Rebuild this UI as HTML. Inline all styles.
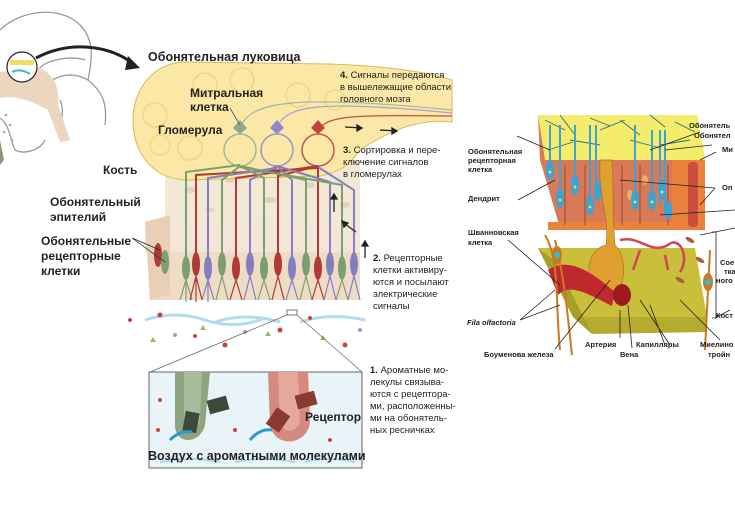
<!DOCTYPE html>
<html><head><meta charset="utf-8"><style>
body{margin:0;background:#fff;width:735px;height:506px;overflow:hidden;font-family:"Liberation Sans",sans-serif}
svg{position:absolute;left:0;top:0}
text{font-family:"Liberation Sans",sans-serif;fill:#222}
.b{font-weight:bold}
</style></head><body>
<svg width="735" height="506" viewBox="0 0 735 506">
<!-- head -->
<g fill="none" stroke="#9a9a9a" stroke-width="1.3">
<path d="M0,30 C20,10 60,5 80,25 C95,40 92,60 88,80 C100,90 108,100 105,125"/>
<path d="M88,80 C70,70 50,75 40,95"/>
<path d="M38,70 C45,60 70,55 85,60"/>
<path d="M0,118 C10,125 10,140 15,150 C25,155 40,150 45,140"/>
<path d="M60,100 C65,110 60,120 62,130"/>
</g>
<path d="M0,72 L40,68 C55,75 60,90 58,105 L70,140 L60,142 L48,110 C30,100 15,95 0,98Z" fill="#ecd6c0"/>
<circle cx="22" cy="67" r="15" fill="#fff" stroke="#222" stroke-width="1.2"/>
<rect x="10" y="60" width="24" height="5" fill="#f2dd60"/>
<path d="M12,72 Q20,68 30,74" stroke="#4ab0dd" stroke-width="2" fill="none"/>
<g fill="#9ac"><circle cx="6" cy="115" r="1.3"/><circle cx="10" cy="125" r="1.3"/><circle cx="4" cy="132" r="1.3"/><circle cx="12" cy="140" r="1.3"/></g>
<path d="M0,140 L4,160 L0,165Z" fill="#8a9a6a"/>
<path d="M36,58 C70,40 110,45 135,65" stroke="#222" stroke-width="3" fill="none"/>
<path d="M128,56 L140,68 L125,70Z" fill="#222"/>

<!-- bone -->
<rect x="165" y="160" width="195" height="62" fill="#f1e8d6"/>
<g fill="#e3d2b8"><ellipse cx="190" cy="190" rx="6" ry="3"/><ellipse cx="230" cy="180" rx="5" ry="3"/><ellipse cx="270" cy="200" rx="6" ry="3"/><ellipse cx="310" cy="185" rx="5" ry="3"/><ellipse cx="345" cy="205" rx="5" ry="3"/><ellipse cx="210" cy="210" rx="5" ry="2"/><ellipse cx="290" cy="175" rx="4" ry="2"/></g>
<!-- epithelium -->
<path d="M145,222 L360,222 L360,300 L150,300 Z" fill="#efdcc6"/>
<rect x="145" y="222" width="215" height="30" fill="#f3e6d8"/>
<path d="M145,222 L170,215 L170,295 L150,300Z" fill="#e9cfb6"/>

<!-- bulb -->
<path d="M185,62 L330,64 C380,66 420,70 452,80 L452,122 C420,118 390,130 360,150 C350,165 340,172 320,176 L185,180 C150,178 133,150 133,120 C133,88 155,62 185,62Z" fill="#fbe7a6" stroke="#d9b95a" stroke-width="1"/>
<g fill="none" stroke="#f0d57a" stroke-width="1.3">
<circle cx="155" cy="115" r="12"/><circle cx="205" cy="85" r="12"/><circle cx="242" cy="80" r="12"/><circle cx="298" cy="95" r="12"/><circle cx="190" cy="148" r="12"/><circle cx="160" cy="145" r="10"/><circle cx="335" cy="100" r="10"/>
</g>
<!-- axons to brain -->
<g fill="none" stroke-width="1.2">
<path d="M240,128 C250,100 300,95 452,110" stroke="#9fb8a0"/>
<path d="M277,128 C285,105 320,100 452,113" stroke="#a8a0d0"/>
<path d="M320,128 C330,115 360,115 452,116" stroke="#c0504a"/>
</g>
<!-- glomeruli -->
<g fill="none" stroke-width="1.5">
<circle cx="240" cy="150" r="16" stroke="#9fb8a0"/>
<circle cx="277" cy="150" r="16" stroke="#9a96cc"/>
<circle cx="318" cy="150" r="16" stroke="#c0584f"/>
</g>
<path d="M233,128 L240,120 L247,128 L240,134Z" fill="#8fa88f"/>
<path d="M270,128 L277,120 L284,128 L277,134Z" fill="#8f89cc"/>
<path d="M311,128 L318,120 L325,128 L318,134Z" fill="#c0443c"/>
<path d="M230,108 L240,125" stroke="#555" stroke-width="0.8"/>

<!-- receptor axons -->
<g fill="none" stroke-width="2">
<path d="M186,265 L186,172 L240,165" stroke="#7aa070"/>
<path d="M196,265 L196,175 L318,168" stroke="#b03a35"/>
<path d="M208,265 L208,178 L277,168" stroke="#8480c0"/>
<path d="M222,265 L222,180 L240,166" stroke="#7aa070"/>
<path d="M236,265 L236,178 L318,166" stroke="#b03a35"/>
<path d="M250,265 L250,180 L277,166" stroke="#8480c0"/>
<path d="M264,265 L264,178 L240,166" stroke="#7aa070"/>
<path d="M278,265 L278,176 L318,166" stroke="#b03a35"/>
<path d="M292,265 L292,180 L277,166" stroke="#8480c0"/>
<path d="M306,265 L306,180 L240,166" stroke="#7aa070"/>
<path d="M318,265 L318,178 L318,166" stroke="#b03a35"/>
<path d="M330,265 L330,182 L277,166" stroke="#8480c0"/>
<path d="M342,265 L342,185 L240,167" stroke="#7aa070"/>
<path d="M354,265 L354,190 L318,167" stroke="#8480c0"/>
</g>
<g>
<ellipse cx="186" cy="268" rx="4" ry="12" fill="#7aa070"/><ellipse cx="196" cy="264" rx="4" ry="12" fill="#b03a35"/><ellipse cx="208" cy="268" rx="4" ry="12" fill="#8480c0"/>
<ellipse cx="222" cy="264" rx="4" ry="12" fill="#7aa070"/><ellipse cx="236" cy="268" rx="4" ry="12" fill="#b03a35"/><ellipse cx="250" cy="264" rx="4" ry="12" fill="#8480c0"/>
<ellipse cx="264" cy="268" rx="4" ry="12" fill="#7aa070"/><ellipse cx="278" cy="264" rx="4" ry="12" fill="#b03a35"/><ellipse cx="292" cy="268" rx="4" ry="12" fill="#8480c0"/>
<ellipse cx="306" cy="264" rx="4" ry="12" fill="#7aa070"/><ellipse cx="318" cy="268" rx="4" ry="12" fill="#b03a35"/><ellipse cx="330" cy="264" rx="4" ry="12" fill="#8480c0"/>
<ellipse cx="342" cy="268" rx="4" ry="12" fill="#7aa070"/><ellipse cx="354" cy="264" rx="4" ry="12" fill="#8480c0"/>
<ellipse cx="158" cy="255" rx="4" ry="12" fill="#b03a35"/><ellipse cx="165" cy="262" rx="4" ry="12" fill="#7aa070"/>
</g>
<g stroke-width="1.2" fill="none">
<path d="M180,300 L186,280 L192,300 M186,280 L186,302" stroke="#7aa070"/>
<path d="M190,300 L196,276 L202,300 M196,276 L196,302" stroke="#b03a35"/>
<path d="M202,300 L208,280 L214,300 M208,280 L208,302" stroke="#8480c0"/>
<path d="M216,300 L222,276 L228,300" stroke="#7aa070"/>
<path d="M230,300 L236,280 L242,300" stroke="#b03a35"/>
<path d="M244,300 L250,276 L256,300" stroke="#8480c0"/>
<path d="M258,300 L264,280 L270,300" stroke="#7aa070"/>
<path d="M272,300 L278,276 L284,300" stroke="#b03a35"/>
<path d="M286,300 L292,280 L298,300" stroke="#8480c0"/>
<path d="M300,300 L306,276 L312,300" stroke="#7aa070"/>
<path d="M312,300 L318,280 L324,300" stroke="#b03a35"/>
<path d="M324,300 L330,276 L336,300" stroke="#8480c0"/>
<path d="M336,300 L342,280 L348,300" stroke="#7aa070"/>
<path d="M348,300 L354,276 L360,300" stroke="#8480c0"/>
</g>
<!-- air flow & molecules -->
<g fill="none" stroke="#9fd3ec" stroke-width="3" opacity="0.8">
<path d="M145,320 Q175,310 205,320 Q235,330 265,318"/><path d="M215,322 Q245,312 280,322"/><path d="M300,322 Q330,312 365,320"/>
</g>
<g fill="#c9453e"><circle cx="160" cy="315" r="2.5"/><circle cx="225" cy="345" r="2.5"/><circle cx="280" cy="330" r="2.5"/><circle cx="345" cy="345" r="2.5"/><circle cx="130" cy="320" r="2"/><circle cx="310" cy="318" r="2"/><circle cx="195" cy="336" r="2"/></g>
<g fill="#9ab86a"><path d="M150,342 l3,-5 l3,5z"/><path d="M265,336 l3,-5 l3,5z"/><path d="M320,340 l3,-5 l3,5z"/><path d="M200,330 l3,-5 l3,5z"/></g>
<g fill="#a59ad0"><circle cx="175" cy="335" r="2"/><circle cx="245" cy="332" r="2"/><circle cx="360" cy="330" r="2"/></g>
<!-- zoom lines -->
<rect x="287" y="310" width="10" height="5" fill="none" stroke="#555" stroke-width="0.8"/>
<path d="M287,315 L150,372 M297,315 L362,372" stroke="#666" stroke-width="0.7"/>
<!-- inset -->
<rect x="149" y="372" width="213" height="96" fill="#e8f4f8" stroke="#666" stroke-width="1"/>
<path d="M175,372 L175,425 C175,445 200,445 205,425 L210,372Z" fill="#8ea57f"/>
<path d="M184,372 L184,420 C186,432 198,432 200,420 L202,372Z" fill="#a9bb9b"/>
<path d="M268,372 L270,425 C275,450 310,445 310,420 L308,372Z" fill="#d58a80"/>
<path d="M278,372 L280,422 C285,436 298,432 300,420 L298,372Z" fill="#e5a89e"/>
<rect x="208" y="398" width="20" height="14" fill="#3d4a3a" transform="rotate(-15 218 405)"/>
<rect x="184" y="412" width="14" height="20" fill="#3d4a3a" transform="rotate(10 191 422)"/>
<rect x="296" y="393" width="20" height="14" fill="#8a3a30" transform="rotate(-15 306 400)"/>
<rect x="270" y="410" width="16" height="20" fill="#8a3a30" transform="rotate(35 278 420)"/>
<path d="M170,440 Q180,430 192,432" stroke="#2a9ad0" stroke-width="3" fill="none"/>
<path d="M250,440 Q260,428 272,430" stroke="#2a9ad0" stroke-width="3" fill="none"/>
<g fill="none" stroke="#a8d8ee" stroke-width="2"><path d="M160,462 Q190,456 220,462"/><path d="M235,462 Q265,456 295,462"/><path d="M305,462 Q330,456 355,462"/></g>
<g fill="#c9453e"><circle cx="160" cy="400" r="2"/><circle cx="235" cy="430" r="2"/><circle cx="330" cy="440" r="2"/><circle cx="158" cy="430" r="2"/></g>

<!-- arrows -->
<g stroke="#222" stroke-width="1.3" fill="#222">
<path d="M345,127 L362,128"/><path d="M362,128 l-5,-3 v6z"/>
<path d="M380,130 L397,131"/><path d="M397,131 l-5,-3 v6z"/>
<path d="M334,212 L334,198"/><path d="M334,194 l-3,5 h6z"/>
<path d="M356,232 L345,224"/><path d="M342,221 l2,6 l4,-4z"/>
<path d="M365,258 L365,245"/><path d="M365,241 l-3,5 h6z"/>
<path d="M132,238 L160,250 M132,238 L165,262" fill="none" stroke-width="0.7"/>
</g>

<!-- left labels -->
<text x="148" y="61" font-size="12.5" class="b">Обонятельная  луковица</text>
<text x="190" y="97" font-size="12" class="b">Митральная</text>
<text x="190" y="111" font-size="12" class="b">клетка</text>
<text x="158" y="134" font-size="12" class="b">Гломерула</text>
<text x="103" y="174" font-size="12" class="b">Кость</text>
<text x="50" y="206" font-size="12" class="b">Обонятельный</text>
<text x="50" y="221" font-size="12" class="b">эпителий</text>
<text x="41" y="245" font-size="12" class="b">Обонятельные</text>
<text x="41" y="260" font-size="12" class="b">рецепторные</text>
<text x="41" y="275" font-size="12" class="b">клетки</text>
<g font-size="9.5">
<text x="340" y="78"><tspan class="b">4.</tspan> Сигналы передаются</text>
<text x="340" y="90">в вышележащие области</text>
<text x="340" y="102">головного мозга</text>
<text x="343" y="153"><tspan class="b">3.</tspan> Сортировка и пере-</text>
<text x="343" y="165">ключение сигналов</text>
<text x="343" y="177">в гломерулах</text>
<text x="373" y="261"><tspan class="b">2.</tspan> Рецепторные</text>
<text x="373" y="273">клетки активиру-</text>
<text x="373" y="285">ются и посылают</text>
<text x="373" y="297">электрические</text>
<text x="373" y="309">сигналы</text>
<text x="370" y="373"><tspan class="b">1.</tspan> Ароматные мо-</text>
<text x="370" y="385">лекулы связыва-</text>
<text x="370" y="397">ются с рецептора-</text>
<text x="370" y="409">ми, расположенны-</text>
<text x="370" y="421">ми на обонятель-</text>
<text x="370" y="433">ных ресничках</text>
</g>
<text x="305" y="421" font-size="12" class="b">Рецептор</text>
<text x="148" y="460" font-size="12.5" class="b">Воздух с ароматными молекулами</text>

<!-- right diagram -->
<!-- olive slab -->
<path d="M538,248 L695,248 L707,317 L573,317Z" fill="#c9bf3a"/>
<path d="M573,317 L707,317 L707,332 L592,334Z" fill="#b5ab30"/>
<path d="M538,248 L573,317 L592,334 L556,262Z" fill="#a89e28"/>
<!-- cell block -->
<path d="M538,115 L697,115 L705,160 L705,228 L560,228 L540,160Z" fill="#d87a58"/>
<path d="M672,160 L705,160 L705,228 L672,228Z" fill="#e8823c"/>
<rect x="548" y="222" width="157" height="8" fill="#e8823c"/>
<path d="M538,115 L697,115 L705,160 L545,160Z" fill="#f4ec6a"/>
<g fill="none" stroke="#2a6f88" stroke-width="0.9"><path d="M545,120 l20,10 M560,115 l15,20 M590,118 l20,8 M620,120 l20,15 M650,115 l15,12 M675,122 l20,10 M600,130 l25,-10 M570,140 l30,5 M630,140 l30,8 M548,150 l25,-8 M660,145 l30,-5"/></g>
<g stroke="#a04a30" stroke-width="1"><path d="M565,165 V225 M585,165 V225 M622,165 V225 M640,165 V225 M668,165 V225"/></g>
<g fill="#e8b060"><ellipse cx="575" cy="180" rx="3" ry="5"/><ellipse cx="630" cy="195" rx="3" ry="5"/><ellipse cx="645" cy="180" rx="3" ry="5"/></g>
<g stroke="#3aa3d8" stroke-width="2"><path d="M550,125 V170 M560,125 V200 M575,125 V185 M590,125 V205 M596,125 V200 M635,125 V205 M652,130 V200 M660,130 V205 M665,130 V215"/></g>
<g fill="#3aa3d8"><ellipse cx="550" cy="170" rx="4" ry="10"/><ellipse cx="560" cy="198" rx="4" ry="10"/><ellipse cx="575" cy="185" rx="4" ry="10"/><ellipse cx="590" cy="205" rx="4" ry="10"/><ellipse cx="598" cy="190" rx="4" ry="10"/><ellipse cx="635" cy="200" rx="4" ry="10"/><ellipse cx="652" cy="200" rx="4" ry="10"/><ellipse cx="662" cy="190" rx="4" ry="10"/><ellipse cx="668" cy="210" rx="4" ry="9"/></g>
<g fill="#e8e040"><circle cx="550" cy="172" r="1.5"/><circle cx="560" cy="200" r="1.5"/><circle cx="575" cy="187" r="1.5"/><circle cx="590" cy="207" r="1.5"/><circle cx="635" cy="202" r="1.5"/><circle cx="652" cy="202" r="1.5"/><circle cx="662" cy="192" r="1.5"/></g>
<rect x="688" y="162" width="10" height="65" rx="4" fill="#c8503c"/>
<path d="M600,160 C598,200 610,215 606,245 C585,250 582,285 604,298 C625,300 630,260 615,245 C612,215 614,190 612,160Z" fill="#e0a030" stroke="#b07020" stroke-width="0.7"/>
<path d="M548,270 C570,255 595,275 615,292 L612,306 C590,295 570,282 558,295Z" fill="#c02830"/>
<ellipse cx="622" cy="295" rx="9" ry="11" fill="#a01820"/>
<g fill="none" stroke="#d2435e" stroke-width="2.5"><path d="M620,240 C640,235 650,255 668,245 C680,235 690,258 680,272 M640,250 L633,270 M665,255 L668,270"/></g>
<g fill="#b05a40"><ellipse cx="690" cy="240" rx="5" ry="2" transform="rotate(30 690 240)"/><ellipse cx="700" cy="260" rx="5" ry="2" transform="rotate(30 700 260)"/><ellipse cx="680" cy="280" rx="5" ry="2" transform="rotate(30 680 280)"/></g>
<g fill="none" stroke="#c87a20" stroke-width="2"><path d="M545,235 C560,260 555,300 560,350 M555,240 C565,280 568,320 572,355 M710,250 L705,350"/></g>
<ellipse cx="557" cy="255" rx="5" ry="9" fill="#c87a20"/><circle cx="557" cy="255" r="3" fill="#35b8e0"/>
<ellipse cx="708" cy="282" rx="5" ry="9" fill="#c87a20"/><circle cx="708" cy="282" r="3" fill="#35b8e0"/>
<path d="M712,232 L716,232 L716,318 L712,318" fill="none" stroke="#222" stroke-width="0.8"/>
<g stroke="#222" stroke-width="0.8" fill="none">
<path d="M517,136 L550,150 M518,200 L555,180 M508,240 L560,285 M520,320 L555,290 M520,320 L560,305 M555,349 L610,280 M620,338 L620,310 M632,348 L628,305 M665,345 L650,305 M670,345 L640,300 M700,132 L650,150 M712,145 L665,150 M716,152 L700,160 M715,188 L620,180 M715,188 L700,205 M735,210 L660,215 M735,228 L700,235 M730,310 L715,318 M720,340 L680,300"/>
</g>
<g font-size="7.5" class="b">
<text x="689" y="128">Обонятель</text>
<text x="694" y="138">Обонятел</text>
<text x="722" y="152">Ми</text>
<text x="722" y="190">Оп</text>
<text x="468" y="154">Обонятельная</text>
<text x="468" y="163">рецепторная</text>
<text x="468" y="172">клетка</text>
<text x="468" y="201">Дендрит</text>
<text x="468" y="235">Шванновская</text>
<text x="468" y="245">клетка</text>
<text x="720" y="265">Сое</text>
<text x="724" y="274">тка</text>
<text x="716" y="283">ного</text>
<text x="716" y="318">Кост</text>
<text x="585" y="347">Артерия</text>
<text x="636" y="347">Капилляры</text>
<text x="700" y="347">Миелино</text>
<text x="708" y="357">тройн</text>
<text x="484" y="357">Боуменова железа</text>
<text x="620" y="357">Вена</text>
<text x="467" y="325" font-style="italic">Fila olfactoria</text>
</g>
</svg>
</body></html>
